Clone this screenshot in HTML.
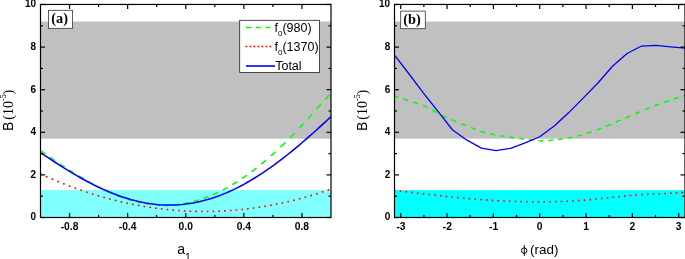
<!DOCTYPE html>
<html><head><meta charset="utf-8"><title>Chart</title>
<style>html,body{margin:0;padding:0;background:#fff;}svg{display:block;will-change:transform}</style></head>
<body><svg width="685" height="259" viewBox="0 0 685 259">
<defs>
<clipPath id="ca"><rect x="40.5" y="4.5" width="290.5" height="213.0"/></clipPath>
<clipPath id="cb"><rect x="394.5" y="4.5" width="290.5" height="213.0"/></clipPath>
</defs>
<rect width="685" height="259" fill="#fff"/>
<!-- panel a -->
<rect x="40.5" y="21.54" width="290.50" height="117.15" fill="#c0c0c0"/>
<rect x="40.5" y="190.13" width="290.50" height="27.37" fill="#80ffff"/>
<g clip-path="url(#ca)" fill="none">
<path d="M40.50,150.44 L41.23,150.97 L41.95,151.50 L42.68,152.02 L43.41,152.55 L44.13,153.08 L44.86,153.60 L45.15,153.80 M49.94,157.21 L50.74,157.77 L51.54,158.34 L52.34,158.89 L53.14,159.44 L53.94,160.00 L54.74,160.55 M59.53,163.80 L60.33,164.33 L61.13,164.86 L61.93,165.39 L62.73,165.92 L63.53,166.44 L64.33,166.96 L64.40,167.01 M69.12,170.04 L69.92,170.55 L70.72,171.04 L71.52,171.54 L72.32,172.04 L73.12,172.54 L73.92,173.02 L73.99,173.06 M78.71,175.90 L79.51,176.37 L80.31,176.84 L81.11,177.31 L81.91,177.77 L82.71,178.24 L83.50,178.70 L83.58,178.74 M88.37,181.50 L89.17,181.95 L89.97,182.40 L90.77,182.86 L91.57,183.31 L92.37,183.75 L93.17,184.19 M97.96,186.78 L98.76,187.20 L99.56,187.61 L100.36,188.02 L101.16,188.43 L101.96,188.84 L102.76,189.24 M107.55,191.58 L108.35,191.96 L109.15,192.33 L109.95,192.69 L110.75,193.04 L111.55,193.39 L112.34,193.74 M117.14,195.69 L117.94,195.99 L118.74,196.29 L119.54,196.60 L120.33,196.90 L121.13,197.18 L121.93,197.46 M126.73,199.05 L127.53,199.30 L128.33,199.54 L129.12,199.77 L129.92,200.00 L130.72,200.23 L131.52,200.45 L131.59,200.47 M136.32,201.68 L137.12,201.87 L137.91,202.06 L138.71,202.24 L139.51,202.41 L140.31,202.58 L141.11,202.75 L141.18,202.76 M145.91,203.66 L146.70,203.78 L147.50,203.91 L148.30,204.04 L149.10,204.16 L149.90,204.28 L150.70,204.38 L150.77,204.39 M155.57,204.95 L156.37,205.03 L157.16,205.10 L157.96,205.15 L158.76,205.21 L159.56,205.26 L160.36,205.32 M165.16,205.41 L165.95,205.40 L166.75,205.39 L167.55,205.39 L168.35,205.35 L169.15,205.32 L169.95,205.28 M174.74,204.95 L175.54,204.86 L176.34,204.78 L177.14,204.69 L177.94,204.60 L178.74,204.50 L179.54,204.38 M184.33,203.54 L185.13,203.38 L185.93,203.22 L186.73,203.05 L187.53,202.88 L188.33,202.72 L189.13,202.55 M193.92,201.40 L194.72,201.19 L195.52,200.97 L196.32,200.76 L197.12,200.53 L197.92,200.28 L198.72,200.04 L198.79,200.02 M203.51,198.48 L204.31,198.20 L205.11,197.90 L205.91,197.61 L206.71,197.31 L207.51,197.02 L208.31,196.70 L208.38,196.67 M213.10,194.71 L213.90,194.36 L214.70,194.02 L215.50,193.65 L216.30,193.28 L217.10,192.90 L217.89,192.53 L217.97,192.50 M222.76,190.10 L223.56,189.68 L224.36,189.26 L225.16,188.84 L225.96,188.40 L226.76,187.96 L227.56,187.51 M232.35,184.73 L233.15,184.25 L233.95,183.76 L234.75,183.26 L235.55,182.77 L236.35,182.27 L237.15,181.76 M241.94,178.61 L242.74,178.07 L243.54,177.53 L244.34,176.97 L245.14,176.41 L245.93,175.85 L246.73,175.28 M251.53,171.77 L252.33,171.16 L253.13,170.55 L253.93,169.94 L254.72,169.33 L255.52,168.69 L256.32,168.06 L256.40,168.00 M261.12,164.20 L261.92,163.55 L262.72,162.88 L263.51,162.20 L264.31,161.53 L265.11,160.86 L265.91,160.18 L265.98,160.12 M270.71,156.01 L271.51,155.31 L272.30,154.60 L273.10,153.89 L273.90,153.17 L274.70,152.45 L275.50,151.73 L275.57,151.66 M280.37,147.24 L281.17,146.48 L281.97,145.72 L282.76,144.96 L283.56,144.20 L284.36,143.43 L285.16,142.65 M289.96,137.90 L290.68,137.17 L291.41,136.43 L292.14,135.67 L292.86,134.92 L293.59,134.16 L294.32,133.41 L294.61,133.11 M299.11,128.31 L299.84,127.53 L300.56,126.74 L301.29,125.96 L302.02,125.18 L302.74,124.39 L303.47,123.60 L303.54,123.52 M307.90,118.76 L308.63,117.96 L309.35,117.16 L310.08,116.35 L310.81,115.54 L311.53,114.74 L312.26,113.93 M316.54,109.16 L317.27,108.36 L318.00,107.55 L318.72,106.74 L319.45,105.94 L320.18,105.13 L320.90,104.32 M325.26,99.50 L325.99,98.70 L326.71,97.89 L327.44,97.09 L328.17,96.29 L328.89,95.49 L329.62,94.69" stroke="#00ff00" stroke-width="1.5"/>
<path d="M40.50,173.94 L40.72,174.04 L40.94,174.14 L41.15,174.24 L41.37,174.33 L41.59,174.43 L41.73,174.50 M45.80,176.33 L46.09,176.45 L46.38,176.58 L46.67,176.71 L46.97,176.84 L47.26,176.97 L47.47,177.07 M51.61,178.86 L51.83,178.95 L52.05,179.04 L52.27,179.14 L52.49,179.23 L52.70,179.32 L52.92,179.41 L53.14,179.51 L53.21,179.54 M57.35,181.26 L57.57,181.35 L57.79,181.44 L58.01,181.53 L58.22,181.62 L58.44,181.71 L58.66,181.80 L58.88,181.89 L58.95,181.92 M63.09,183.58 L63.31,183.66 L63.53,183.75 L63.75,183.83 L63.96,183.92 L64.18,184.01 L64.40,184.09 L64.62,184.18 L64.69,184.20 M68.83,185.80 L69.05,185.88 L69.27,185.97 L69.48,186.05 L69.70,186.13 L69.92,186.21 L70.14,186.29 L70.36,186.37 L70.43,186.40 M74.57,187.93 L74.86,188.03 L75.15,188.14 L75.44,188.24 L75.73,188.35 L76.02,188.45 L76.24,188.53 M80.31,189.97 L80.60,190.07 L80.89,190.17 L81.18,190.27 L81.47,190.37 L81.76,190.47 L81.98,190.54 M86.12,191.93 L86.34,192.01 L86.56,192.08 L86.77,192.15 L86.99,192.22 L87.21,192.29 L87.43,192.37 L87.65,192.44 L87.72,192.46 M91.86,193.79 L92.08,193.86 L92.29,193.92 L92.51,193.99 L92.73,194.06 L92.95,194.13 L93.17,194.19 L93.38,194.26 L93.46,194.28 M97.60,195.55 L97.82,195.61 L98.03,195.68 L98.25,195.74 L98.47,195.81 L98.69,195.87 L98.91,195.94 L99.12,196.00 L99.20,196.02 M103.34,197.21 L103.55,197.27 L103.77,197.33 L103.99,197.40 L104.21,197.46 L104.43,197.52 L104.64,197.58 L104.86,197.64 L104.93,197.66 M109.08,198.79 L109.37,198.87 L109.66,198.95 L109.95,199.02 L110.24,199.10 L110.53,199.17 L110.75,199.23 M114.81,200.27 L115.10,200.34 L115.40,200.42 L115.69,200.49 L115.98,200.56 L116.27,200.63 L116.48,200.69 M120.55,201.66 L120.84,201.73 L121.13,201.80 L121.42,201.86 L121.72,201.93 L122.01,202.00 L122.22,202.05 M126.36,202.98 L126.58,203.02 L126.80,203.07 L127.02,203.12 L127.24,203.17 L127.45,203.21 L127.67,203.26 L127.89,203.31 L127.96,203.32 M132.10,204.18 L132.32,204.23 L132.54,204.27 L132.76,204.31 L132.97,204.36 L133.19,204.40 L133.41,204.44 L133.63,204.49 L133.70,204.50 M137.84,205.30 L138.06,205.34 L138.28,205.38 L138.50,205.42 L138.71,205.46 L138.93,205.50 L139.15,205.54 L139.37,205.58 L139.44,205.59 M143.58,206.31 L143.80,206.35 L144.02,206.39 L144.23,206.42 L144.45,206.46 L144.67,206.50 L144.89,206.54 L145.11,206.57 L145.18,206.58 M149.32,207.25 L149.61,207.29 L149.90,207.33 L150.19,207.38 L150.48,207.42 L150.77,207.46 L150.99,207.50 M155.06,208.08 L155.35,208.12 L155.64,208.16 L155.93,208.20 L156.22,208.24 L156.51,208.28 L156.73,208.31 M160.87,208.83 L161.09,208.86 L161.31,208.89 L161.52,208.91 L161.74,208.94 L161.96,208.96 L162.18,208.99 L162.40,209.01 L162.47,209.02 M166.61,209.48 L166.83,209.51 L167.04,209.53 L167.26,209.55 L167.48,209.58 L167.70,209.60 L167.92,209.62 L168.13,209.64 L168.21,209.65 M172.35,210.04 L172.57,210.06 L172.78,210.08 L173.00,210.10 L173.22,210.12 L173.44,210.14 L173.65,210.16 L173.87,210.18 L173.95,210.18 M178.09,210.51 L178.30,210.53 L178.52,210.54 L178.74,210.56 L178.96,210.57 L179.18,210.59 L179.39,210.60 L179.61,210.62 L179.68,210.62 M183.82,210.88 L184.12,210.90 L184.41,210.92 L184.70,210.93 L184.99,210.95 L185.28,210.97 L185.50,210.98 M189.56,211.17 L189.85,211.18 L190.14,211.19 L190.44,211.20 L190.73,211.21 L191.02,211.22 L191.23,211.23 M195.30,211.36 L195.59,211.36 L195.88,211.37 L196.17,211.38 L196.46,211.39 L196.76,211.39 L196.97,211.40 M201.11,211.46 L201.33,211.46 L201.55,211.46 L201.77,211.46 L201.99,211.46 L202.20,211.46 L202.42,211.46 L202.64,211.46 L202.71,211.47 M206.85,211.46 L207.07,211.46 L207.29,211.46 L207.51,211.46 L207.72,211.45 L207.94,211.45 L208.16,211.45 L208.38,211.45 L208.45,211.44 M212.59,211.37 L212.81,211.37 L213.03,211.36 L213.25,211.36 L213.46,211.35 L213.68,211.34 L213.90,211.34 L214.12,211.33 L214.19,211.33 M218.33,211.20 L218.55,211.19 L218.77,211.18 L218.98,211.17 L219.20,211.16 L219.42,211.15 L219.64,211.14 L219.86,211.13 L219.93,211.12 M224.07,210.92 L224.36,210.90 L224.65,210.89 L224.94,210.87 L225.23,210.86 L225.52,210.84 L225.74,210.83 M229.81,210.56 L230.10,210.54 L230.39,210.51 L230.68,210.49 L230.97,210.47 L231.26,210.45 L231.48,210.43 M235.62,210.09 L235.84,210.07 L236.06,210.06 L236.27,210.04 L236.49,210.02 L236.71,210.00 L236.93,209.98 L237.15,209.96 L237.22,209.95 M241.36,209.54 L241.58,209.52 L241.79,209.50 L242.01,209.47 L242.23,209.45 L242.45,209.43 L242.67,209.40 L242.88,209.38 L242.96,209.37 M247.10,208.90 L247.32,208.88 L247.53,208.85 L247.75,208.82 L247.97,208.80 L248.19,208.77 L248.40,208.74 L248.62,208.71 L248.70,208.71 M252.84,208.17 L253.05,208.14 L253.27,208.11 L253.49,208.08 L253.71,208.05 L253.93,208.02 L254.14,207.99 L254.36,207.96 L254.43,207.95 M258.57,207.34 L258.87,207.30 L259.16,207.25 L259.45,207.21 L259.74,207.16 L260.03,207.12 L260.25,207.08 M264.31,206.42 L264.60,206.37 L264.89,206.33 L265.19,206.28 L265.48,206.23 L265.77,206.18 L265.98,206.14 M270.05,205.41 L270.34,205.36 L270.63,205.30 L270.92,205.25 L271.21,205.20 L271.51,205.14 L271.72,205.10 M275.86,204.30 L276.08,204.25 L276.30,204.21 L276.52,204.17 L276.74,204.12 L276.95,204.08 L277.17,204.03 L277.39,203.99 L277.46,203.97 M281.60,203.10 L281.82,203.05 L282.04,203.00 L282.26,202.96 L282.47,202.91 L282.69,202.86 L282.91,202.81 L283.13,202.77 L283.20,202.75 M287.34,201.81 L287.56,201.76 L287.78,201.71 L288.00,201.66 L288.21,201.61 L288.43,201.55 L288.65,201.50 L288.87,201.45 L288.94,201.43 M293.08,200.43 L293.30,200.37 L293.52,200.32 L293.73,200.27 L293.95,200.21 L294.17,200.16 L294.39,200.10 L294.61,200.05 L294.68,200.03 M298.82,198.96 L299.11,198.88 L299.40,198.80 L299.69,198.72 L299.98,198.65 L300.27,198.57 L300.49,198.51 M304.56,197.39 L304.85,197.31 L305.14,197.23 L305.43,197.15 L305.72,197.07 L306.01,196.98 L306.23,196.92 M310.37,195.71 L310.59,195.65 L310.81,195.58 L311.02,195.52 L311.24,195.45 L311.46,195.39 L311.68,195.32 L311.89,195.26 L311.97,195.24 M316.11,193.96 L316.33,193.90 L316.54,193.83 L316.76,193.76 L316.98,193.69 L317.20,193.62 L317.42,193.55 L317.63,193.48 L317.71,193.46 M321.85,192.12 L322.06,192.05 L322.28,191.98 L322.50,191.90 L322.72,191.83 L322.94,191.76 L323.15,191.69 L323.37,191.62 L323.45,191.59 M327.59,190.19 L327.80,190.11 L328.02,190.04 L328.24,189.96 L328.46,189.88 L328.68,189.81 L328.89,189.73 L329.11,189.65 L329.18,189.63" stroke="#ff0000" stroke-width="1.6"/>
<path d="M40.50,152.57 L44.13,155.03 L47.76,157.46 L51.39,159.86 L55.02,162.24 L58.66,164.58 L62.29,166.89 L65.92,169.16 L69.55,171.38 L73.18,173.56 L76.81,175.69 L80.44,177.76 L84.08,179.78 L87.71,181.74 L91.34,183.63 L94.97,185.46 L98.60,187.22 L102.23,188.92 L105.86,190.53 L109.49,192.08 L113.12,193.55 L116.76,194.93 L120.39,196.24 L124.02,197.46 L127.65,198.60 L131.28,199.65 L134.91,200.61 L138.54,201.48 L142.18,202.26 L145.81,202.94 L149.44,203.53 L153.07,204.03 L156.70,204.43 L160.33,204.73 L163.96,204.93 L167.59,205.04 L171.22,205.04 L174.86,204.95 L178.49,204.76 L182.12,204.46 L185.75,204.07 L189.38,203.57 L193.01,202.97 L196.64,202.28 L200.28,201.48 L203.91,200.58 L207.54,199.59 L211.17,198.49 L214.80,197.30 L218.43,196.00 L222.06,194.62 L225.69,193.13 L229.33,191.56 L232.96,189.88 L236.59,188.12 L240.22,186.27 L243.85,184.32 L247.48,182.29 L251.11,180.18 L254.74,177.98 L258.38,175.69 L262.01,173.33 L265.64,170.89 L269.27,168.37 L272.90,165.78 L276.53,163.12 L280.16,160.39 L283.79,157.60 L287.43,154.74 L291.06,151.82 L294.69,148.85 L298.32,145.82 L301.95,142.74 L305.58,139.61 L309.21,136.44 L312.84,133.23 L316.48,129.98 L320.11,126.69 L323.74,123.38 L327.37,120.04 L331.00,116.68" stroke="#0000ff" stroke-width="1.55"/>
</g>
<g stroke="#000" stroke-width="1.2"><line x1="69.55" y1="217.50" x2="69.55" y2="213.00"/><line x1="69.55" y1="4.50" x2="69.55" y2="9.00"/><line x1="98.60" y1="217.50" x2="98.60" y2="215.00"/><line x1="98.60" y1="4.50" x2="98.60" y2="7.00"/><line x1="127.65" y1="217.50" x2="127.65" y2="213.00"/><line x1="127.65" y1="4.50" x2="127.65" y2="9.00"/><line x1="156.70" y1="217.50" x2="156.70" y2="215.00"/><line x1="156.70" y1="4.50" x2="156.70" y2="7.00"/><line x1="185.75" y1="217.50" x2="185.75" y2="213.00"/><line x1="185.75" y1="4.50" x2="185.75" y2="9.00"/><line x1="214.80" y1="217.50" x2="214.80" y2="215.00"/><line x1="214.80" y1="4.50" x2="214.80" y2="7.00"/><line x1="243.85" y1="217.50" x2="243.85" y2="213.00"/><line x1="243.85" y1="4.50" x2="243.85" y2="9.00"/><line x1="272.90" y1="217.50" x2="272.90" y2="215.00"/><line x1="272.90" y1="4.50" x2="272.90" y2="7.00"/><line x1="301.95" y1="217.50" x2="301.95" y2="213.00"/><line x1="301.95" y1="4.50" x2="301.95" y2="9.00"/><line x1="40.50" y1="217.50" x2="45.00" y2="217.50"/><line x1="331.00" y1="217.50" x2="326.50" y2="217.50"/><line x1="40.50" y1="196.20" x2="43.00" y2="196.20"/><line x1="331.00" y1="196.20" x2="328.50" y2="196.20"/><line x1="40.50" y1="174.90" x2="45.00" y2="174.90"/><line x1="331.00" y1="174.90" x2="326.50" y2="174.90"/><line x1="40.50" y1="153.60" x2="43.00" y2="153.60"/><line x1="331.00" y1="153.60" x2="328.50" y2="153.60"/><line x1="40.50" y1="132.30" x2="45.00" y2="132.30"/><line x1="331.00" y1="132.30" x2="326.50" y2="132.30"/><line x1="40.50" y1="111.00" x2="43.00" y2="111.00"/><line x1="331.00" y1="111.00" x2="328.50" y2="111.00"/><line x1="40.50" y1="89.70" x2="45.00" y2="89.70"/><line x1="331.00" y1="89.70" x2="326.50" y2="89.70"/><line x1="40.50" y1="68.40" x2="43.00" y2="68.40"/><line x1="331.00" y1="68.40" x2="328.50" y2="68.40"/><line x1="40.50" y1="47.10" x2="45.00" y2="47.10"/><line x1="331.00" y1="47.10" x2="326.50" y2="47.10"/><line x1="40.50" y1="25.80" x2="43.00" y2="25.80"/><line x1="331.00" y1="25.80" x2="328.50" y2="25.80"/><line x1="40.50" y1="4.50" x2="45.00" y2="4.50"/><line x1="331.00" y1="4.50" x2="326.50" y2="4.50"/></g>
<rect x="40.5" y="4.45" width="290.50" height="213.05" fill="none" stroke="#000" stroke-width="1.2"/>
<!-- panel b -->
<rect x="394.5" y="21.54" width="290.50" height="117.15" fill="#c0c0c0"/>
<rect x="394.5" y="190.13" width="290.50" height="27.37" fill="#00ffff"/>
<g clip-path="url(#cb)" fill="none">
<path d="M394.15,95.88 L394.88,96.12 L395.61,96.36 L396.33,96.60 L397.06,96.84 L397.79,97.08 L398.44,97.30 M403.25,98.90 L404.05,99.16 L404.85,99.43 L405.65,99.69 L406.45,99.96 L407.25,100.23 L408.05,100.49 M412.93,102.05 L413.73,102.30 L414.53,102.55 L415.33,102.80 L416.13,103.05 L416.93,103.31 L417.74,103.56 M422.54,105.27 L423.34,105.57 L424.14,105.92 L424.94,106.27 L425.74,106.62 L426.54,107.02 L427.34,107.42 L427.42,107.45 M432.22,110.08 L433.02,110.54 L433.82,111.00 L434.62,111.46 L435.42,111.93 L436.22,112.39 L437.03,112.84 M441.90,115.45 L442.70,115.84 L443.50,116.21 L444.30,116.58 L445.11,116.95 L445.91,117.30 L446.71,117.65 M451.51,119.67 L452.31,120.00 L453.11,120.32 L453.91,120.65 L454.71,120.97 L455.51,121.30 L456.32,121.63 L456.39,121.66 M461.19,123.65 L461.99,123.98 L462.79,124.32 L463.59,124.65 L464.40,124.98 L465.20,125.31 L466.00,125.64 L466.07,125.67 M470.87,127.60 L471.67,127.92 L472.48,128.23 L473.28,128.54 L474.08,128.84 L474.88,129.14 L475.68,129.44 M480.56,131.15 L481.36,131.41 L482.16,131.67 L482.96,131.92 L483.76,132.17 L484.56,132.40 L485.36,132.63 M490.16,133.87 L490.96,134.06 L491.77,134.22 L492.57,134.39 L493.37,134.55 L494.17,134.71 L494.97,134.86 L495.04,134.87 M499.85,135.73 L500.65,135.87 L501.45,136.00 L502.25,136.13 L503.05,136.26 L503.85,136.38 L504.65,136.51 M509.53,137.22 L510.33,137.33 L511.13,137.44 L511.93,137.54 L512.73,137.65 L513.53,137.76 L514.33,137.86 M519.14,138.46 L519.94,138.56 L520.74,138.65 L521.54,138.75 L522.34,138.84 L523.14,138.94 L523.94,139.03 L524.01,139.04 M528.82,139.61 L529.62,139.70 L530.42,139.80 L531.22,139.89 L532.02,139.99 L532.82,140.09 L533.62,140.18 M538.50,140.78 L539.30,140.86 L540.10,140.90 L540.90,140.89 L541.70,140.88 L542.50,140.86 L543.30,140.83 M548.18,140.54 L548.98,140.47 L549.78,140.40 L550.58,140.33 L551.38,140.25 L552.18,140.16 L552.98,140.08 M557.79,139.49 L558.59,139.38 L559.39,139.28 L560.19,139.17 L560.99,139.06 L561.79,138.94 L562.59,138.83 L562.67,138.82 M567.47,138.12 L568.27,138.00 L569.07,137.86 L569.87,137.71 L570.67,137.56 L571.47,137.41 L572.27,137.24 M577.15,136.10 L577.95,135.89 L578.75,135.69 L579.55,135.47 L580.35,135.25 L581.16,135.03 L581.96,134.80 M586.76,133.41 L587.56,133.17 L588.36,132.93 L589.16,132.68 L589.96,132.44 L590.76,132.19 L591.57,131.92 L591.64,131.90 M596.44,130.20 L597.24,129.90 L598.04,129.60 L598.84,129.29 L599.65,128.98 L600.45,128.66 L601.25,128.34 M606.12,126.32 L606.92,125.98 L607.73,125.64 L608.53,125.29 L609.33,124.94 L610.13,124.60 L610.93,124.25 M615.73,122.14 L616.53,121.79 L617.33,121.43 L618.13,121.08 L618.94,120.73 L619.74,120.38 L620.54,120.04 L620.61,120.01 M625.41,117.97 L626.21,117.63 L627.02,117.30 L627.82,116.97 L628.62,116.64 L629.42,116.31 L630.22,115.97 M635.10,113.90 L635.90,113.55 L636.70,113.21 L637.50,112.87 L638.30,112.52 L639.10,112.18 L639.90,111.83 M644.78,109.76 L645.58,109.42 L646.38,109.09 L647.18,108.75 L647.98,108.42 L648.78,108.09 L649.58,107.77 M654.39,105.87 L655.19,105.57 L655.99,105.26 L656.79,104.96 L657.59,104.67 L658.39,104.37 L659.19,104.08 L659.26,104.06 M664.07,102.33 L664.87,102.05 L665.67,101.77 L666.47,101.49 L667.27,101.22 L668.07,100.94 L668.87,100.67 M673.75,99.04 L674.55,98.78 L675.35,98.52 L676.15,98.26 L676.95,98.00 L677.75,97.75 L678.55,97.49 M683.36,96.02 L683.65,95.93 L683.94,95.84 L684.23,95.76 L684.52,95.67 L684.81,95.58 L685.10,95.49 L685.25,95.45" stroke="#00ff00" stroke-width="1.5"/>
<path d="M394.15,190.30 L394.37,190.33 L394.59,190.35 L394.81,190.38 L395.02,190.41 L395.24,190.43 L395.46,190.46 L395.53,190.47 M399.68,190.98 L399.90,191.00 L400.12,191.03 L400.34,191.06 L400.56,191.08 L400.77,191.11 L400.99,191.14 L401.21,191.16 L401.28,191.17 M405.43,191.68 L405.65,191.71 L405.87,191.73 L406.09,191.76 L406.31,191.79 L406.52,191.81 L406.74,191.84 L406.96,191.87 L407.03,191.87 M411.18,192.38 L411.40,192.40 L411.62,192.43 L411.84,192.46 L412.06,192.48 L412.28,192.51 L412.49,192.54 L412.71,192.56 L412.79,192.57 M416.93,193.07 L417.15,193.10 L417.37,193.12 L417.59,193.15 L417.81,193.18 L418.03,193.20 L418.24,193.23 L418.46,193.25 L418.54,193.26 M422.68,193.75 L422.90,193.78 L423.12,193.81 L423.34,193.83 L423.56,193.86 L423.78,193.88 L424.00,193.91 L424.21,193.93 L424.29,193.94 M428.44,194.43 L428.65,194.45 L428.87,194.48 L429.09,194.50 L429.31,194.53 L429.53,194.55 L429.75,194.58 L429.96,194.60 L430.04,194.61 M434.19,195.09 L434.40,195.11 L434.62,195.14 L434.84,195.16 L435.06,195.19 L435.28,195.21 L435.50,195.24 L435.71,195.26 L435.79,195.27 M439.94,195.73 L440.16,195.75 L440.37,195.78 L440.59,195.80 L440.81,195.83 L441.03,195.85 L441.25,195.87 L441.47,195.90 L441.54,195.91 M445.69,196.35 L445.91,196.38 L446.12,196.40 L446.34,196.42 L446.56,196.45 L446.78,196.47 L447.00,196.49 L447.22,196.52 L447.29,196.52 M451.44,196.96 L451.66,196.98 L451.88,197.00 L452.09,197.02 L452.31,197.05 L452.53,197.07 L452.75,197.09 L452.97,197.11 L453.04,197.12 M457.19,197.54 L457.41,197.56 L457.63,197.58 L457.84,197.60 L458.06,197.62 L458.28,197.64 L458.50,197.66 L458.72,197.68 L458.79,197.69 M462.94,198.09 L463.16,198.11 L463.38,198.13 L463.59,198.15 L463.81,198.17 L464.03,198.19 L464.25,198.21 L464.47,198.23 L464.54,198.24 M468.69,198.61 L468.91,198.63 L469.13,198.65 L469.35,198.67 L469.56,198.69 L469.78,198.71 L470.00,198.72 L470.22,198.74 L470.29,198.75 M474.44,199.10 L474.66,199.12 L474.88,199.14 L475.10,199.15 L475.31,199.17 L475.53,199.19 L475.75,199.21 L475.97,199.23 L476.04,199.23 M480.19,199.56 L480.41,199.57 L480.63,199.59 L480.85,199.61 L481.07,199.62 L481.28,199.64 L481.50,199.66 L481.72,199.67 L481.79,199.68 M485.94,199.98 L486.16,199.99 L486.38,200.01 L486.60,200.02 L486.82,200.04 L487.03,200.05 L487.25,200.07 L487.47,200.08 L487.54,200.09 M491.69,200.36 L491.91,200.37 L492.13,200.38 L492.35,200.40 L492.57,200.41 L492.78,200.42 L493.00,200.44 L493.22,200.45 L493.29,200.46 M497.44,200.69 L497.66,200.71 L497.88,200.72 L498.10,200.73 L498.32,200.74 L498.54,200.75 L498.75,200.77 L498.97,200.78 L499.05,200.78 M503.19,200.99 L503.41,201.00 L503.63,201.01 L503.85,201.02 L504.07,201.03 L504.29,201.04 L504.50,201.05 L504.72,201.06 L504.80,201.06 M508.94,201.24 L509.16,201.25 L509.38,201.26 L509.60,201.27 L509.82,201.28 L510.04,201.28 L510.26,201.29 L510.47,201.30 L510.55,201.30 M514.70,201.45 L514.91,201.46 L515.13,201.46 L515.35,201.47 L515.57,201.48 L515.79,201.48 L516.01,201.49 L516.22,201.50 L516.30,201.50 M520.45,201.61 L520.66,201.62 L520.88,201.62 L521.10,201.63 L521.32,201.64 L521.54,201.64 L521.76,201.65 L521.97,201.65 L522.05,201.65 M526.20,201.73 L526.42,201.74 L526.63,201.74 L526.85,201.75 L527.07,201.75 L527.29,201.75 L527.51,201.76 L527.73,201.76 L527.80,201.76 M531.95,201.81 L532.17,201.81 L532.38,201.82 L532.60,201.82 L532.82,201.82 L533.04,201.82 L533.26,201.82 L533.48,201.82 L533.55,201.82 M537.70,201.84 L537.92,201.84 L538.13,201.84 L538.35,201.84 L538.57,201.84 L538.79,201.84 L539.01,201.84 L539.23,201.84 L539.30,201.84 M543.45,201.83 L543.67,201.83 L543.89,201.83 L544.10,201.83 L544.32,201.82 L544.54,201.82 L544.76,201.82 L544.98,201.82 L545.05,201.82 M549.20,201.77 L549.42,201.77 L549.64,201.76 L549.85,201.76 L550.07,201.76 L550.29,201.75 L550.51,201.75 L550.73,201.75 L550.80,201.74 M554.95,201.66 L555.17,201.65 L555.39,201.65 L555.61,201.64 L555.82,201.64 L556.04,201.63 L556.26,201.63 L556.48,201.62 L556.55,201.62 M560.70,201.49 L560.92,201.49 L561.14,201.48 L561.36,201.47 L561.57,201.46 L561.79,201.46 L562.01,201.45 L562.23,201.44 L562.30,201.44 M566.45,201.27 L566.67,201.26 L566.89,201.25 L567.11,201.24 L567.33,201.23 L567.54,201.22 L567.76,201.21 L567.98,201.20 L568.05,201.20 M572.20,200.99 L572.42,200.98 L572.64,200.96 L572.86,200.95 L573.08,200.94 L573.29,200.93 L573.51,200.91 L573.73,200.90 L573.80,200.90 M577.95,200.64 L578.17,200.62 L578.39,200.61 L578.61,200.60 L578.83,200.58 L579.04,200.56 L579.26,200.55 L579.48,200.53 L579.55,200.53 M583.70,200.22 L583.92,200.20 L584.14,200.19 L584.36,200.17 L584.58,200.15 L584.80,200.13 L585.01,200.12 L585.23,200.10 L585.30,200.09 M589.45,199.73 L589.67,199.71 L589.89,199.69 L590.11,199.67 L590.33,199.65 L590.55,199.63 L590.76,199.61 L590.98,199.59 L591.06,199.59 M595.20,199.18 L595.42,199.16 L595.64,199.14 L595.86,199.12 L596.08,199.10 L596.30,199.07 L596.52,199.05 L596.73,199.03 L596.81,199.02 M600.96,198.59 L601.17,198.56 L601.39,198.54 L601.61,198.52 L601.83,198.49 L602.05,198.47 L602.27,198.45 L602.48,198.42 L602.56,198.42 M606.71,197.96 L606.92,197.94 L607.14,197.92 L607.36,197.89 L607.58,197.87 L607.80,197.84 L608.02,197.82 L608.23,197.80 L608.31,197.79 M612.46,197.33 L612.68,197.31 L612.89,197.28 L613.11,197.26 L613.33,197.24 L613.55,197.21 L613.77,197.19 L613.99,197.16 L614.06,197.16 M618.21,196.71 L618.43,196.69 L618.64,196.66 L618.86,196.64 L619.08,196.62 L619.30,196.59 L619.52,196.57 L619.74,196.55 L619.81,196.54 M623.96,196.12 L624.18,196.09 L624.39,196.07 L624.61,196.05 L624.83,196.03 L625.05,196.01 L625.27,195.99 L625.49,195.97 L625.56,195.96 M629.71,195.57 L629.93,195.56 L630.15,195.54 L630.36,195.52 L630.58,195.50 L630.80,195.48 L631.02,195.46 L631.24,195.44 L631.31,195.44 M635.46,195.11 L635.68,195.09 L635.90,195.07 L636.11,195.06 L636.33,195.04 L636.55,195.03 L636.77,195.01 L636.99,194.99 L637.06,194.99 M641.21,194.71 L641.43,194.70 L641.65,194.68 L641.87,194.67 L642.08,194.66 L642.30,194.64 L642.52,194.63 L642.74,194.62 L642.81,194.61 M646.96,194.37 L647.18,194.36 L647.40,194.35 L647.62,194.34 L647.83,194.33 L648.05,194.32 L648.27,194.30 L648.49,194.29 L648.56,194.29 M652.71,194.08 L652.93,194.07 L653.15,194.06 L653.37,194.05 L653.58,194.03 L653.80,194.02 L654.02,194.01 L654.24,194.00 L654.31,194.00 M658.46,193.81 L658.68,193.80 L658.90,193.79 L659.12,193.77 L659.34,193.76 L659.55,193.75 L659.77,193.74 L659.99,193.73 L660.06,193.73 M664.21,193.54 L664.43,193.53 L664.65,193.52 L664.87,193.51 L665.09,193.50 L665.30,193.49 L665.52,193.48 L665.74,193.47 L665.81,193.47 M669.96,193.27 L670.18,193.26 L670.40,193.24 L670.62,193.23 L670.84,193.22 L671.06,193.21 L671.27,193.20 L671.49,193.19 L671.56,193.19 M675.71,192.97 L675.93,192.95 L676.15,192.94 L676.37,192.93 L676.59,192.92 L676.81,192.90 L677.02,192.89 L677.24,192.88 L677.32,192.87 M681.46,192.62 L681.68,192.61 L681.90,192.59 L682.12,192.58 L682.34,192.57 L682.56,192.55 L682.78,192.54 L682.99,192.52 L683.07,192.52" stroke="#ff0000" stroke-width="1.6"/>
<path d="M394.15,54.55 L408.71,73.51 L423.26,92.90 L437.82,111.21 L452.37,129.74 L466.93,140.18 L481.48,148.06 L496.04,150.62 L510.59,148.27 L525.15,142.95 L539.70,136.77 L554.25,125.91 L568.81,112.60 L583.36,97.90 L597.92,82.99 L612.47,66.27 L627.03,53.49 L641.58,46.03 L656.14,45.40 L670.69,46.89 L685.25,48.16" stroke="#0000ff" stroke-width="1.3" stroke-linejoin="round"/>
</g>
<g stroke="#000" stroke-width="1.2"><line x1="400.71" y1="217.50" x2="400.71" y2="213.00"/><line x1="400.71" y1="4.50" x2="400.71" y2="9.00"/><line x1="423.88" y1="217.50" x2="423.88" y2="215.00"/><line x1="423.88" y1="4.50" x2="423.88" y2="7.00"/><line x1="447.04" y1="217.50" x2="447.04" y2="213.00"/><line x1="447.04" y1="4.50" x2="447.04" y2="9.00"/><line x1="470.21" y1="217.50" x2="470.21" y2="215.00"/><line x1="470.21" y1="4.50" x2="470.21" y2="7.00"/><line x1="493.37" y1="217.50" x2="493.37" y2="213.00"/><line x1="493.37" y1="4.50" x2="493.37" y2="9.00"/><line x1="516.54" y1="217.50" x2="516.54" y2="215.00"/><line x1="516.54" y1="4.50" x2="516.54" y2="7.00"/><line x1="539.70" y1="217.50" x2="539.70" y2="213.00"/><line x1="539.70" y1="4.50" x2="539.70" y2="9.00"/><line x1="562.87" y1="217.50" x2="562.87" y2="215.00"/><line x1="562.87" y1="4.50" x2="562.87" y2="7.00"/><line x1="586.03" y1="217.50" x2="586.03" y2="213.00"/><line x1="586.03" y1="4.50" x2="586.03" y2="9.00"/><line x1="609.20" y1="217.50" x2="609.20" y2="215.00"/><line x1="609.20" y1="4.50" x2="609.20" y2="7.00"/><line x1="632.36" y1="217.50" x2="632.36" y2="213.00"/><line x1="632.36" y1="4.50" x2="632.36" y2="9.00"/><line x1="655.53" y1="217.50" x2="655.53" y2="215.00"/><line x1="655.53" y1="4.50" x2="655.53" y2="7.00"/><line x1="678.69" y1="217.50" x2="678.69" y2="213.00"/><line x1="678.69" y1="4.50" x2="678.69" y2="9.00"/><line x1="394.50" y1="217.50" x2="399.00" y2="217.50"/><line x1="685.00" y1="217.50" x2="680.50" y2="217.50"/><line x1="394.50" y1="196.20" x2="397.00" y2="196.20"/><line x1="685.00" y1="196.20" x2="682.50" y2="196.20"/><line x1="394.50" y1="174.90" x2="399.00" y2="174.90"/><line x1="685.00" y1="174.90" x2="680.50" y2="174.90"/><line x1="394.50" y1="153.60" x2="397.00" y2="153.60"/><line x1="685.00" y1="153.60" x2="682.50" y2="153.60"/><line x1="394.50" y1="132.30" x2="399.00" y2="132.30"/><line x1="685.00" y1="132.30" x2="680.50" y2="132.30"/><line x1="394.50" y1="111.00" x2="397.00" y2="111.00"/><line x1="685.00" y1="111.00" x2="682.50" y2="111.00"/><line x1="394.50" y1="89.70" x2="399.00" y2="89.70"/><line x1="685.00" y1="89.70" x2="680.50" y2="89.70"/><line x1="394.50" y1="68.40" x2="397.00" y2="68.40"/><line x1="685.00" y1="68.40" x2="682.50" y2="68.40"/><line x1="394.50" y1="47.10" x2="399.00" y2="47.10"/><line x1="685.00" y1="47.10" x2="680.50" y2="47.10"/><line x1="394.50" y1="25.80" x2="397.00" y2="25.80"/><line x1="685.00" y1="25.80" x2="682.50" y2="25.80"/><line x1="394.50" y1="4.50" x2="399.00" y2="4.50"/><line x1="685.00" y1="4.50" x2="680.50" y2="4.50"/></g>
<rect x="394.5" y="4.45" width="290.50" height="213.05" fill="none" stroke="#000" stroke-width="1.2"/>
<!-- tick labels -->
<g font-family="Liberation Sans, sans-serif" font-weight="bold" font-size="10.3px" fill="#000">
<text x="36.0" y="220.40" text-anchor="end" font-size="10px">0</text><text x="36.0" y="177.80" text-anchor="end" font-size="10px">2</text><text x="36.0" y="135.20" text-anchor="end" font-size="10px">4</text><text x="36.0" y="92.60" text-anchor="end" font-size="10px">6</text><text x="36.0" y="50.00" text-anchor="end" font-size="10px">8</text><text x="36.0" y="7.40" text-anchor="end" font-size="10px">10</text><text x="390.2" y="220.40" text-anchor="end" font-size="10px">0</text><text x="390.2" y="177.80" text-anchor="end" font-size="10px">2</text><text x="390.2" y="135.20" text-anchor="end" font-size="10px">4</text><text x="390.2" y="92.60" text-anchor="end" font-size="10px">6</text><text x="390.2" y="50.00" text-anchor="end" font-size="10px">8</text><text x="390.2" y="7.40" text-anchor="end" font-size="10px">10</text><text x="69.55" y="230" text-anchor="middle">-0.8</text><text x="127.65" y="230" text-anchor="middle">-0.4</text><text x="185.75" y="230" text-anchor="middle">0.0</text><text x="243.85" y="230" text-anchor="middle">0.4</text><text x="301.95" y="230" text-anchor="middle">0.8</text><text x="401.01" y="230" text-anchor="middle">-3</text><text x="447.34" y="230" text-anchor="middle">-2</text><text x="493.67" y="230" text-anchor="middle">-1</text><text x="539.70" y="230" text-anchor="middle">0</text><text x="586.03" y="230" text-anchor="middle">1</text><text x="632.36" y="230" text-anchor="middle">2</text><text x="678.69" y="230" text-anchor="middle">3</text>
</g>
<!-- axis labels -->
<g font-family="Liberation Sans, sans-serif" font-size="14px" fill="#000">
<text x="177.3" y="254">a<tspan font-size="10.5px" dy="6.6" dx="0">1</tspan></text>
<ellipse cx="524.2" cy="250.6" rx="2.7" ry="2.8" fill="none" stroke="#000" stroke-width="1"/><line x1="524.3" y1="244.9" x2="524.3" y2="256" stroke="#000" stroke-width="0.9"/><text x="530.1" y="253.7" font-size="13.4px">(rad)</text>
<text transform="translate(13.2,131) rotate(-90)">B<tspan font-family="Liberation Serif, serif" dx="2">(10<tspan font-size="8.5px" dy="-7" dx="-0.3">-5</tspan><tspan dy="7" dx="-0.3">)</tspan></tspan></text>
<text transform="translate(367.2,131) rotate(-90)">B<tspan font-family="Liberation Serif, serif" dx="2">(10<tspan font-size="8.5px" dy="-7" dx="-0.3">-5</tspan><tspan dy="7" dx="-0.3">)</tspan></tspan></text>
</g>
<!-- panel labels -->
<rect x="48.4" y="10.3" width="24.2" height="18" fill="#fff" stroke="#333" stroke-width="0.8"/>
<rect x="400.7" y="11.1" width="24.6" height="17.6" fill="#fff" stroke="#333" stroke-width="0.8"/>
<g font-family="Liberation Serif, serif" font-weight="bold" font-size="14.3px">
<text x="51.3" y="23">(a)</text>
<text x="403.2" y="23.6">(b)</text>
</g>
<!-- legend -->
<rect x="239.7" y="20.3" width="79.8" height="52.2" fill="#fff" stroke="#222" stroke-width="0.8"/>
<line x1="246" y1="27.5" x2="271" y2="27.5" stroke="#00ff00" stroke-width="1.3" stroke-dasharray="5 4.7"/>
<line x1="245.5" y1="46.5" x2="271.5" y2="46.5" stroke="#ff0000" stroke-width="1.7" stroke-dasharray="1.8 2.2"/>
<line x1="246" y1="66" x2="275" y2="66" stroke="#0000ff" stroke-width="1.6"/>
<g font-family="Liberation Sans, sans-serif" font-size="12.5px" fill="#000">
<text x="274.5" y="31.7">f<tspan font-size="8px" dy="4">0</tspan><tspan dy="-4">(980)</tspan></text>
<text x="274.5" y="51">f<tspan font-size="8px" dy="4">0</tspan><tspan dy="-4">(1370)</tspan></text>
<text x="275.2" y="70.3">Total</text>
</g>
</svg></body></html>
